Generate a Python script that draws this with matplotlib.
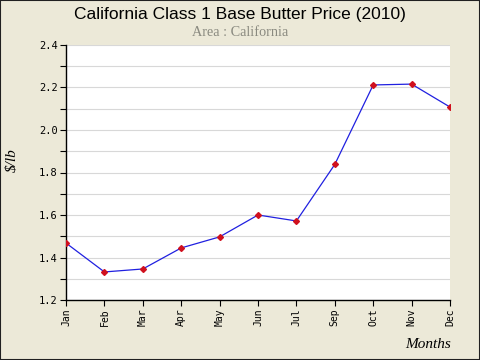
import matplotlib
matplotlib.use("Agg")
import matplotlib.pyplot as plt
from matplotlib.ticker import MultipleLocator

months = ["Jan", "Feb", "Mar", "Apr", "May", "Jun", "Jul", "Sep", "Oct", "Nov", "Dec"]
prices = [1.468, 1.332, 1.346, 1.445, 1.497, 1.600, 1.572, 1.838, 2.212, 2.216, 2.108]
yticks = [1.2, 1.4, 1.6, 1.8, 2.0, 2.2, 2.4]

bg = "#ECE9D8"
fig = plt.figure(figsize=(4.8, 3.6), dpi=100, facecolor=bg)
ax = fig.add_axes([66/480, 1 - 300/360, (450-66)/480, (300-45)/360])
ax.set_facecolor("white")

x = list(range(len(months)))
ax.plot(x, prices, color="#2020E0", lw=0.9, zorder=3)
ax.plot(x, prices, linestyle="none", marker="D", ms=3, color="#D0101E", zorder=4)

ax.set_xlim(0, len(months) - 1)
ax.set_xticks(x)
ax.set_xticklabels(months, rotation=90, family="DejaVu Sans Mono", fontsize=7)
ax.set_yticks(yticks)
ax.set_yticklabels([f"{v:.1f}" for v in yticks], family="DejaVu Sans Mono", fontsize=7.5)
ax.yaxis.set_minor_locator(MultipleLocator(0.1))
ax.set_ylim(1.2, 2.4)
ax.grid(True, which="both", axis="y", color="#D8D8D8", lw=0.8)
ax.tick_params(axis="both", which="both", direction="out", color="black", length=4, width=0.8, pad=2)
for s in ["top", "right"]:
    ax.spines[s].set_visible(False)
for s in ["left", "bottom"]:
    ax.spines[s].set_color("black")
    ax.spines[s].set_linewidth(1.0)

fig.text(0.5, 1 - 14/360, "California Class 1 Base Butter Price (2010)", ha="center", va="center",
         family="Liberation Sans", fontsize=12.5, color="black")
fig.text(0.5, 1 - 32/360, "Area : California", ha="center", va="center",
         family="Liberation Serif", fontsize=10.3, color="#8A8A80")
fig.text(12/480, 1 - 160/360, "$/lb", ha="center", va="center", rotation=90,
         family="Liberation Serif", style="italic", fontsize=11)
fig.text(451/480, 1 - 345/360, "Months", ha="right", va="center",
         family="Liberation Serif", style="italic", fontsize=11)

fig.patches.append(plt.Rectangle((0, 0), 1, 1, transform=fig.transFigure, fill=False,
                                 edgecolor="#202020", lw=1.5))
fig.savefig("out.png", dpi=100, facecolor=bg)
